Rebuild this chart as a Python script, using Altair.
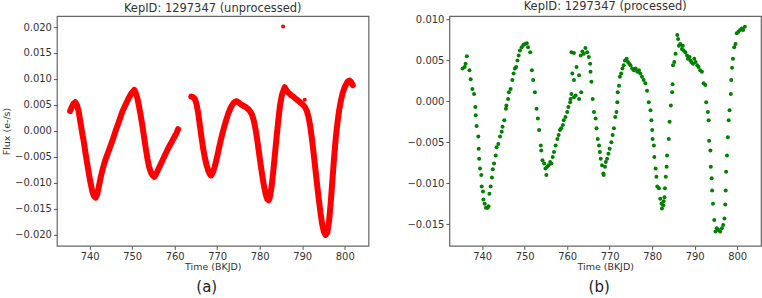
import altair as alt
import pandas as pd

FONT = "DejaVu Sans"

# ---------------- data: unprocessed (red) ----------------
red1_t = [735.4, 735.8, 736.2, 736.6, 737.0, 737.4, 737.8, 738.2, 738.6, 739.0, 739.4, 739.8,
          740.2, 740.6, 741.0, 741.4, 741.8, 742.2, 742.6, 743.0, 743.4, 743.8, 744.2, 744.6,
          745.0, 745.4, 745.8, 746.2, 746.6, 747.0, 747.4, 747.8, 748.2, 748.6, 749.0, 749.4,
          749.8, 750.2, 750.5, 750.8, 751.2, 751.6, 752.0, 752.4, 752.8, 753.2, 753.6, 754.0,
          754.4, 754.8, 755.2, 755.6, 756.0, 756.4, 756.8, 757.2, 757.6, 758.0, 758.4, 758.8,
          759.2, 759.6, 760.0, 760.4, 760.8]
red1_v = [0.0038, 0.0046, 0.0052, 0.0055, 0.0050, 0.0038, 0.0018, -0.0002, -0.0020, -0.0042, -0.0062, -0.0082,
          -0.0100, -0.0116, -0.0126, -0.0129, -0.0122, -0.0106, -0.0090, -0.0076, -0.0064, -0.0054, -0.0045, -0.0036,
          -0.0027, -0.0018, -0.0008, 0.0002, 0.0011, 0.0020, 0.0030, 0.0039, 0.0046, 0.0053, 0.0060, 0.0066,
          0.0072, 0.0076, 0.0079, 0.0074, 0.0064, 0.0048, 0.0030, 0.0010, -0.0012, -0.0034, -0.0054, -0.0070,
          -0.0080, -0.0086, -0.0089, -0.0084, -0.0077, -0.0070, -0.0063, -0.0056, -0.0049, -0.0042, -0.0035, -0.0029,
          -0.0023, -0.0017, -0.0011, -0.0005, 0.0003]
red2_t = [763.9, 764.3, 764.7, 765.1, 765.5, 765.9, 766.3, 766.7, 767.1, 767.5, 767.9, 768.3,
          768.6, 769.0, 769.4, 769.8, 770.2, 770.6, 771.0, 771.4, 771.8, 772.2, 772.6, 773.0,
          773.4, 773.8, 774.2, 774.6, 775.0, 775.4, 775.8, 776.2, 776.6, 777.0, 777.4, 777.8,
          778.2, 778.6, 779.0, 779.4, 779.8, 780.2, 780.6, 781.0, 781.4, 781.8, 782.1, 782.4,
          782.8, 783.2, 783.6, 784.0, 784.4, 784.8, 785.2, 785.6, 785.9, 786.3, 786.7, 787.1,
          787.5, 787.9, 788.3, 788.7, 789.1, 789.5, 789.9, 790.3, 790.7, 791.1, 791.5, 791.9,
          792.3, 792.7, 793.1, 793.5, 793.9, 794.3, 794.7, 795.1, 795.5, 795.9, 796.3, 796.7,
          797.1, 797.5, 797.9, 798.3, 798.7, 799.1, 799.5, 799.9, 800.3, 800.7, 801.1, 801.5, 801.9]
red2_v = [0.0066, 0.0065, 0.0062, 0.0053, 0.0036, 0.0012, -0.0012, -0.0034, -0.0052, -0.0066, -0.0077, -0.0084,
          -0.0086, -0.0080, -0.0070, -0.0057, -0.0042, -0.0027, -0.0013, 0.0000, 0.0012, 0.0023, 0.0033, 0.0041,
          0.0048, 0.0053, 0.0056, 0.0057, 0.0055, 0.0052, 0.0050, 0.0048, 0.0046, 0.0044, 0.0041, 0.0037,
          0.0031, 0.0020, 0.0004, -0.0016, -0.0040, -0.0064, -0.0086, -0.0106, -0.0122, -0.0132, -0.0134, -0.0128,
          -0.0108, -0.0078, -0.0044, -0.0010, 0.0022, 0.0050, 0.0068, 0.0078, 0.0084, 0.0078, 0.0074, 0.0071,
          0.0068, 0.0066, 0.0063, 0.0060, 0.0058, 0.0055, 0.0052, 0.0049, 0.0045, 0.0038, 0.0026, 0.0008,
          -0.0016, -0.0044, -0.0074, -0.0104, -0.0132, -0.0158, -0.0180, -0.0195, -0.0201, -0.0196, -0.0176, -0.0140,
          -0.0096, -0.0052, -0.0014, 0.0016, 0.0040, 0.0058, 0.0072, 0.0082, 0.0089, 0.0095, 0.0097, 0.0094, 0.0088]
outlier_t = [785.5, 790.6]
outlier_v = [0.0201, 0.0060]

# ---------------- data: processed (green) ----------------
green_t = [735.4, 735.9, 736.1, 736.4, 737.0, 737.3, 737.7, 738.1, 738.4, 738.5, 738.7, 739.1,
           739.2, 739.3, 739.5, 739.8, 739.9, 740.2, 740.3, 740.6, 740.9, 741.3, 741.5, 741.7,
           742.0, 742.3, 742.5, 742.8, 743.2, 743.4, 743.8, 744.2, 744.6, 744.8, 745.2, 745.6,
           745.7, 746.1, 746.3, 746.7, 747.1, 747.4, 747.7, 748.0, 748.3, 748.6, 748.9, 749.3,
           749.7, 750.1, 750.5, 750.8, 751.3, 751.7, 752.0, 752.4, 752.8, 753.1, 753.4, 753.8,
           753.9, 754.2, 754.6, 754.9, 755.1, 755.3, 755.6, 756.0, 756.3, 756.6, 756.9, 757.3,
           757.7, 758.0, 758.3, 758.6, 759.0, 759.2, 759.6, 760.0, 760.3, 760.7, 760.8, 761.0,
           761.0, 761.6, 761.2, 761.6, 762.2, 762.8, 763.2, 763.6, 763.9, 764.3, 764.7, 765.1,
           765.4, 765.5, 765.7, 761.6, 762.0, 762.8, 763.3,
           766.0, 766.3, 766.7, 766.9, 767.2, 767.5, 767.7, 767.9, 768.2, 768.5, 768.6, 768.9,
           769.1, 769.4, 769.7, 770.0, 770.4, 770.7, 771.0, 771.3, 771.6, 771.8, 771.9, 772.2,
           772.4, 772.7, 773.0, 773.3, 773.6, 774.0, 774.3, 774.6, 774.9, 775.3, 775.7, 776.1,
           776.5, 776.9, 777.2, 777.6, 778.0, 778.4, 778.8, 779.2, 779.6, 779.8, 780.0, 780.1,
           780.4, 780.5, 780.8, 781.0, 781.2, 781.6, 781.9, 782.2, 782.3, 782.6, 782.7, 782.9,
           783.0, 783.2, 783.4, 783.5, 783.9, 784.1, 784.4, 784.7, 784.8, 784.9, 785.2, 785.5,
           785.9, 786.1, 786.3, 786.6, 787.0, 787.2, 787.4, 787.8, 788.2, 788.4, 788.8, 789.0,
           789.2, 789.6, 789.9, 790.2, 790.6, 790.9, 791.3, 791.7, 792.1, 792.5, 792.7, 793.1,
           793.3, 793.4, 793.7, 793.8, 794.0, 794.1, 794.3, 794.6, 794.9, 795.2, 795.6, 796.0,
           796.4, 796.7, 797.0, 797.2, 797.3, 797.4, 797.6, 797.8, 798.0, 798.2, 798.5, 798.6,
           798.8, 799.0, 799.3, 799.6, 799.9, 800.3, 800.7, 801.1, 801.4, 801.8]
green_v = [0.0040, 0.0042, 0.0046, 0.0055, 0.0038, 0.0027, 0.0015, 0.0009, -0.0007, -0.0017, -0.0030, -0.0043,
           -0.0058, -0.0070, -0.0082, -0.0090, -0.0104, -0.0110, -0.0120, -0.0125, -0.0130, -0.0130, -0.0128, -0.0113,
           -0.0104, -0.0093, -0.0083, -0.0076, -0.0066, -0.0056, -0.0052, -0.0043, -0.0037, -0.0031, -0.0023, -0.0009,
           -0.0005, 0.0003, 0.0011, 0.0015, 0.0026, 0.0034, 0.0040, 0.0042, 0.0050, 0.0056, 0.0062, 0.0066,
           0.0069, 0.0070, 0.0071, 0.0066, 0.0060, 0.0038, 0.0026, 0.0011, -0.0009, -0.0021, -0.0035, -0.0054,
           -0.0060, -0.0072, -0.0076, -0.0082, -0.0090, -0.0080, -0.0078, -0.0074, -0.0076, -0.0068, -0.0062, -0.0054,
           -0.0046, -0.0041, -0.0035, -0.0033, -0.0029, -0.0023, -0.0019, -0.0013, -0.0007, -0.0001, 0.0003, 0.0009,
           0.0060, 0.0059, 0.0034, 0.0026, 0.0042, 0.0032, 0.0056, 0.0061, 0.0058, 0.0065, 0.0060, 0.0054,
           0.0046, 0.0036, 0.0024, 0.0005, 0.0007, 0.0003, 0.0011,
           0.0003, -0.0013, -0.0021, -0.0033, -0.0046, -0.0054, -0.0062, -0.0070, -0.0078, -0.0088, -0.0090, -0.0080,
           -0.0074, -0.0070, -0.0064, -0.0058, -0.0050, -0.0041, -0.0033, -0.0019, -0.0013, -0.0001, 0.0011, 0.0019,
           0.0030, 0.0034, 0.0040, 0.0044, 0.0050, 0.0052, 0.0048, 0.0046, 0.0044, 0.0040, 0.0038, 0.0040,
           0.0036, 0.0038, 0.0034, 0.0030, 0.0026, 0.0022, 0.0013, -0.0001, -0.0011, -0.0023, -0.0035, -0.0046,
           -0.0054, -0.0068, -0.0082, -0.0092, -0.0104, -0.0106, -0.0119, -0.0125, -0.0131, -0.0127, -0.0122, -0.0117,
           -0.0106, -0.0092, -0.0080, -0.0066, -0.0046, -0.0025, -0.0005, 0.0011, 0.0021, 0.0044, 0.0048, 0.0058,
           0.0081, 0.0076, 0.0068, 0.0070, 0.0064, 0.0068, 0.0062, 0.0060, 0.0056, 0.0052, 0.0054, 0.0050,
           0.0048, 0.0046, 0.0052, 0.0048, 0.0044, 0.0042, 0.0038, 0.0036, 0.0022, 0.0020, -0.0001, -0.0013,
           -0.0023, -0.0048, -0.0060, -0.0080, -0.0094, -0.0109, -0.0125, -0.0145, -0.0159, -0.0155, -0.0157, -0.0159,
           -0.0155, -0.0151, -0.0143, -0.0126, -0.0109, -0.0086, -0.0066, -0.0044, -0.0023, -0.0011, 0.0009, 0.0026,
           0.0041, 0.0052, 0.0066, 0.0070, 0.0083, 0.0085, 0.0087, 0.0089, 0.0087, 0.0091]

x_ticks = [740, 750, 760, 770, 780, 790, 800]
left_y_ticks = [-0.020, -0.015, -0.010, -0.005, 0.0, 0.005, 0.010, 0.015, 0.020]
right_y_ticks = [-0.015, -0.010, -0.005, 0.0, 0.005, 0.010]

W, H = 312, 230
X_DOM = [732.3, 805.6]
LEFT_Y_DOM = [-0.0222, 0.0221]
RIGHT_Y_DOM = [-0.01765, 0.0104]

red_df = pd.DataFrame({
    "t": red1_t + red2_t,
    "v": red1_v + red2_v,
    "seg": ["a"] * len(red1_t) + ["b"] * len(red2_t),
})
out_df = pd.DataFrame({"t": outlier_t, "v": outlier_v})
green_df = pd.DataFrame({"t": green_t, "v": green_v})

AX = dict(grid=False, domain=False, labelFont=FONT, titleFont=FONT, labelFontSize=10,
          titleFontSize=9.5, labelColor="#333", titleColor="#333", tickColor="#555",
          tickSize=3.5, titleFontWeight="normal", labelPadding=2)


def xenc():
    return alt.X("t:Q", scale=alt.Scale(domain=X_DOM, nice=False, zero=False),
                 axis=alt.Axis(values=x_ticks, format="d", title="Time (BKJD)",
                               titlePadding=0, **AX))


def yenc(dom, ticks, title):
    return alt.Y("v:Q", scale=alt.Scale(domain=dom, nice=False, zero=False),
                 axis=alt.Axis(values=ticks, format=".3f", title=title if title else "",
                               titlePadding=3, **AX))


def label(txt):
    return alt.Chart(pd.DataFrame({"s": [txt]})).mark_text(
        font=FONT, fontSize=15, color="#222", baseline="middle", align="center"
    ).encode(x=alt.value(150), y=alt.value(271), text="s:N")


def ttl(txt):
    return alt.TitleParams(txt, font=FONT, fontSize=11.5, fontWeight="normal", color="#333", offset=2)


left_line = alt.Chart(red_df).mark_line(
    color="#ff0000", strokeWidth=6, strokeCap="round", strokeJoin="round"
).encode(x=xenc(), y=yenc(LEFT_Y_DOM, left_y_ticks, "Flux (e-/s)"), detail="seg:N")
left_pts = alt.Chart(out_df).mark_circle(color="#ff0000", size=16, opacity=1).encode(
    x=xenc(), y=yenc(LEFT_Y_DOM, left_y_ticks, "Flux (e-/s)"))

left = alt.layer(left_line, left_pts, label("(a)")).properties(
    width=W, height=H, title=ttl("KepID: 1297347 (unprocessed)"))

right_pts = alt.Chart(green_df).mark_circle(color="#008000", size=16, opacity=1).encode(
    x=xenc(), y=yenc(RIGHT_Y_DOM, right_y_ticks, None))

right = alt.layer(right_pts, label("(b)")).properties(
    width=W, height=H, title=ttl("KepID: 1297347 (processed)"))

chart = alt.hconcat(left, right, spacing=36).properties(
    padding={"left": 0, "top": 0, "right": 0, "bottom": 0},
    background="white",
).configure_view(stroke="#666", strokeWidth=1.2)

chart.save("out.html", embed_options={"renderer": "svg", "actions": False})
